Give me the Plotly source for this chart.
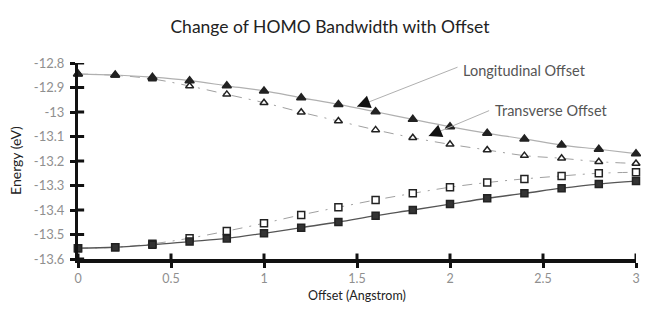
import plotly.graph_objects as go

offset = [0.0, 0.2, 0.4, 0.6, 0.8, 1.0, 1.2, 1.4, 1.6, 1.8, 2.0, 2.2, 2.4, 2.6, 2.8, 3.0]
long_top = [-12.845, -12.849, -12.858, -12.872, -12.893, -12.914, -12.942, -12.969,
            -12.999, -13.030, -13.060, -13.087, -13.110, -13.135, -13.152, -13.170]
trans_top = [-12.845, -12.850, -12.865, -12.894, -12.928, -12.962, -13.001, -13.037,
             -13.073, -13.105, -13.132, -13.155, -13.178, -13.189, -13.203, -13.210]
long_bot = [-13.556, -13.552, -13.542, -13.529, -13.516, -13.495, -13.472, -13.449,
            -13.423, -13.400, -13.376, -13.352, -13.332, -13.311, -13.294, -13.282]
trans_bot = [-13.556, -13.552, -13.538, -13.515, -13.486, -13.454, -13.420, -13.389,
             -13.359, -13.332, -13.307, -13.288, -13.273, -13.261, -13.250, -13.246]

x_ticks = [0, 0.5, 1, 1.5, 2, 2.5, 3]
x_tick_text = ["0", "0.5", "1", "1.5", "2", "2.5", "3"]
y_ticks = [-12.8, -12.9, -13.0, -13.1, -13.2, -13.3, -13.4, -13.5, -13.6]
y_tick_text = ["-12.8", "-12.9", "-13", "-13.1", "-13.2", "-13.3", "-13.4", "-13.5", "-13.6"]

FONT = "Lato"
# page body adds an 8px margin; figure sized to what is visible in the window
W, H = 633, 296
fig = go.Figure()

def add(y, color, dash, symbol, mcolor, mfill, size, lw):
    fig.add_trace(go.Scatter(
        x=offset, y=y, mode="lines+markers",
        line=dict(color=color, width=lw, dash=dash, shape="spline"),
        marker=dict(symbol=symbol, size=size, color=mfill,
                    line=dict(color=mcolor, width=1.5)),
        showlegend=False, cliponaxis=False))

add(trans_top, "#a0a0a0", "10px,7px,2px,7px", "triangle-up", "#222", "white", 7, 1)
add(long_top, "#b0b0b0", "solid", "triangle-up", "#222", "#222", 8, 1.2)
add(trans_bot, "#a0a0a0", "10px,7px,2px,7px", "square", "#222", "white", 7, 1)
add(long_bot, "#555555", "solid", "square", "#222", "#333", 7, 1.3)

shapes = []
for v in y_ticks:
    shapes.append(dict(type="line", xref="paper", yref="y", x0=0, x1=0.011, y0=v, y1=v,
                       line=dict(color="#111", width=3)))
for v in x_ticks:
    shapes.append(dict(type="line", xref="x", yref="paper", x0=v, x1=v, y0=0, y1=0.028,
                       line=dict(color="#111", width=3)))

annotations = [
    dict(x=1.50, y=-12.978, xref="x", yref="y", ax=102, ay=-40,
         text="", showarrow=True, arrowhead=0, arrowcolor="#b0b0b0", arrowwidth=1),
    dict(x=1.50, y=-12.978, xref="x", yref="y", ax=13, ay=-5, text="", showarrow=True,
         arrowhead=2, arrowsize=2.2, arrowwidth=1.2, arrowcolor="#111"),
    dict(x=2.06, y=-12.829, xref="x", yref="y", text="Longitudinal Offset", showarrow=False,
         xanchor="left", yanchor="middle", font=dict(family=FONT, size=14.5, color="#555")),
    dict(x=1.885, y=-13.098, xref="x", yref="y", ax=62, ay=-26,
         text="", showarrow=True, arrowhead=0, arrowcolor="#b0b0b0", arrowwidth=1),
    dict(x=1.885, y=-13.098, xref="x", yref="y", ax=12, ay=-5, text="", showarrow=True,
         arrowhead=2, arrowsize=2.2, arrowwidth=1.2, arrowcolor="#111"),
    dict(x=2.23, y=-12.995, xref="x", yref="y", text="Transverse Offset", showarrow=False,
         xanchor="left", yanchor="middle", font=dict(family=FONT, size=14.5, color="#555")),
    dict(x=0.5, y=-0.186, xref="paper", yref="paper", text="Offset (Angstrom)", showarrow=False,
         xanchor="center", yanchor="middle", font=dict(family=FONT, size=12.5, color="#222")),
    dict(x=-0.113, y=0.505, xref="paper", yref="paper", text="Energy (eV)", showarrow=False,
         textangle=-90, xanchor="center", yanchor="middle",
         font=dict(family=FONT, size=14, color="#222")),
]

fig.update_layout(
    width=W, height=H,
    margin=dict(l=70, r=5, t=55, b=45, autoexpand=False),
    paper_bgcolor="white", plot_bgcolor="white",
    title=dict(text="Change of HOMO Bandwidth with Offset", x=322 / W, xanchor="center",
               y=1 - 19 / H, yanchor="middle", yref="container",
               font=dict(family=FONT, size=17.5, color="#222")),
    xaxis=dict(range=[0, 3], tickvals=x_ticks, ticktext=x_tick_text, showgrid=False,
               zeroline=False, showline=True, linecolor="#111", linewidth=3.5,
               ticks="outside", ticklen=5, tickwidth=3, tickcolor="#111",
               ticklabelstandoff=0, automargin=False, ticklabeloverflow="allow",
               tickfont=dict(family=FONT, size=12.5, color="#8f8f8f")),
    yaxis=dict(range=[-13.6, -12.8], tickvals=y_ticks, ticktext=y_tick_text, showgrid=False,
               zeroline=False, showline=True, linecolor="#111", linewidth=3,
               ticks="outside", ticklen=5, tickwidth=3, tickcolor="#111",
               ticklabelstandoff=3, automargin=False,
               tickfont=dict(family=FONT, size=13, color="#8f8f8f")),
    shapes=shapes, annotations=annotations,
)

fig.write_html("out.html")
